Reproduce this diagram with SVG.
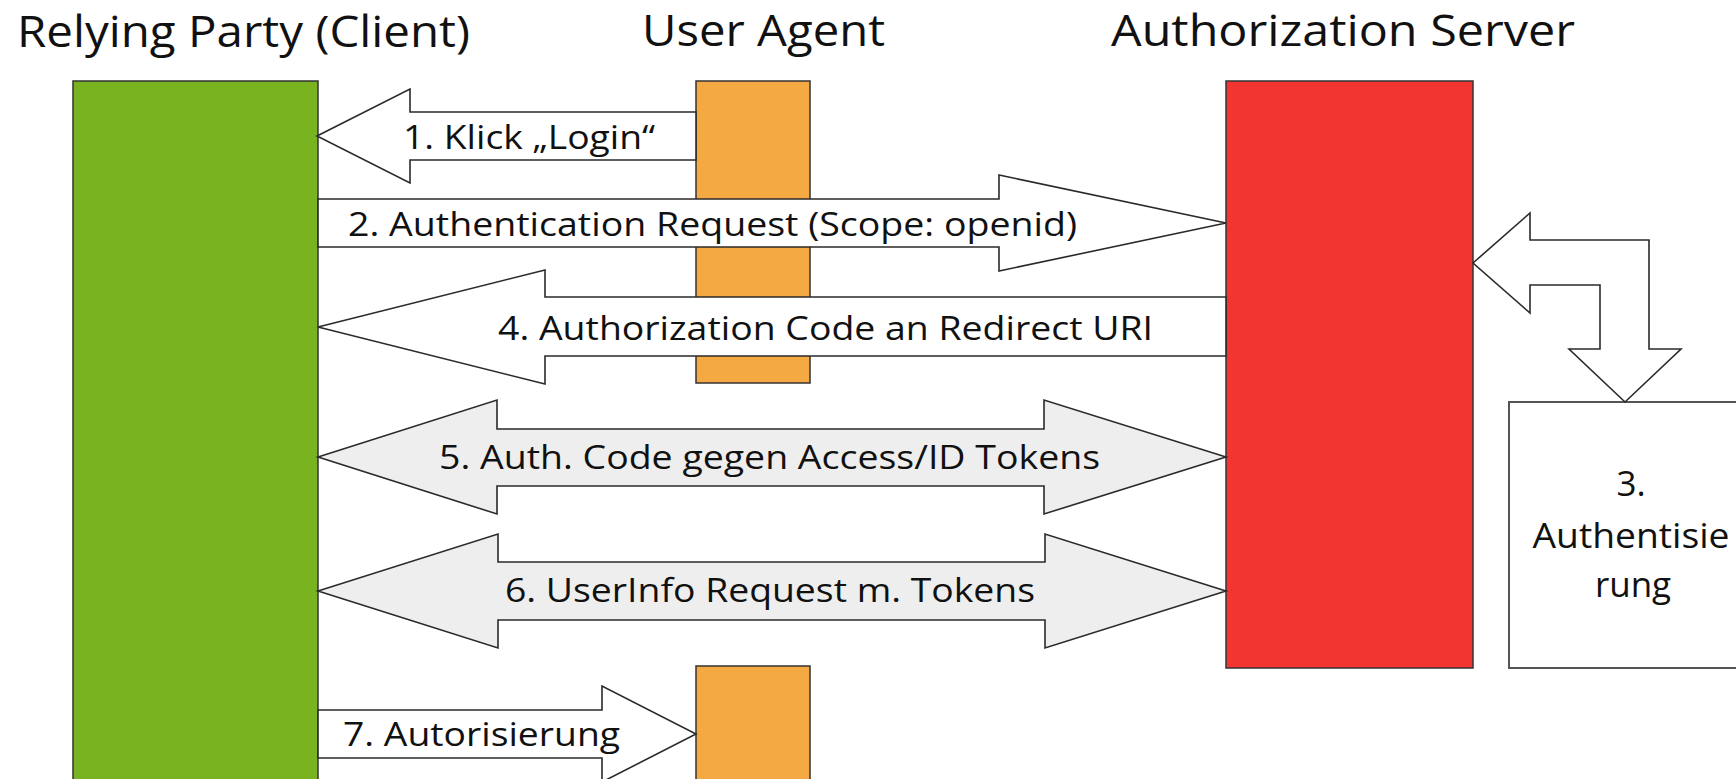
<svg xmlns="http://www.w3.org/2000/svg" width="1736" height="779" viewBox="0 0 1736 779">
  <style>
    .title { font-family: "Open Sans", "Noto Sans", sans-serif; font-size: 44px; fill: #111; }
    .label { font-family: "Open Sans", "Noto Sans", sans-serif; font-size: 32px; fill: #111; }
    .boxtext { font-family: "Open Sans", "Noto Sans", sans-serif; font-size: 35px; fill: #111; text-anchor: middle; }
    .lane { stroke: #333; stroke-width: 1.5; }
    .client { fill: #79b31f; }
    .agent { fill: #f4a943; }
    .server { fill: #f23531; }
    .step { fill: #ffffff; stroke: #555; stroke-width: 2; }
    .arrow { stroke: #2a2a2a; stroke-width: 1.6; stroke-linejoin: miter; }
    .plain { fill: #ffffff; }
    .exchange { fill: #eeeeee; }
  </style>

  <rect width="1736" height="779" fill="#ffffff"/>

  <!-- lane headings -->
  <g id="headings">
    <text class="title" x="17" y="47" textLength="453" lengthAdjust="spacingAndGlyphs">Relying Party (Client)</text>
    <text class="title" x="642" y="46" textLength="243" lengthAdjust="spacingAndGlyphs">User Agent</text>
    <text class="title" x="1111" y="46" textLength="464" lengthAdjust="spacingAndGlyphs">Authorization Server</text>
  </g>

  <!-- lanes -->
  <g id="client">
    <rect class="lane client" x="73" y="81" width="245" height="720"/>
  </g>
  <g id="user-agent">
    <rect class="lane agent" x="696" y="81" width="114" height="302"/>
  </g>
  <g id="user-agent-result">
    <rect class="lane agent" x="696" y="666" width="114" height="140"/>
  </g>
  <g id="authorization-server">
    <rect class="lane server" x="1226" y="81" width="247" height="587"/>
  </g>
  <g id="authentication-step">
    <rect class="step" x="1509" y="402" width="246" height="266"/>
    <text class="boxtext" x="1631" y="496">3.</text>
    <text class="boxtext" x="1631" y="548" textLength="197" lengthAdjust="spacingAndGlyphs">Authentisie</text>
    <text class="boxtext" x="1633" y="597">rung</text>
  </g>

  <!-- message arrows -->
  <g id="connectors">
    <!-- 1: user agent to client -->
    <polygon class="arrow plain" points="317,136 410,89 410,112 696,112 696,160 410,160 410,183"/>
    <!-- 2: client to authorization server -->
    <polygon class="arrow plain" points="318,199 999,199 999,175 1226,223 999,271 999,247 318,247"/>
    <!-- 3: authentication loop on the server -->
    <polygon class="arrow plain" points="1473,263 1530,213 1530,240 1649,240 1649,349 1681,349 1625,402 1569,349 1600,349 1600,285 1530,285 1530,313"/>
    <!-- 4: code back to client -->
    <polygon class="arrow plain" points="318,327 545,270 545,297 1226,297 1226,356 545,356 545,384"/>
    <!-- 5: token exchange -->
    <polygon class="arrow exchange" points="318,457 497,400 497,429 1044,429 1044,400 1226,457 1044,514 1044,486 497,486 497,514"/>
    <!-- 6: userinfo request -->
    <polygon class="arrow exchange" points="318,591 498,534 498,562 1045,562 1045,534 1226,591 1045,648 1045,620 498,620 498,648"/>
    <!-- 7: authorisation to user agent -->
    <polygon class="arrow plain" points="318,710 602,710 602,686 696,734 602,782 602,758 318,758"/>

    <text class="label" x="403" y="149" textLength="252" lengthAdjust="spacingAndGlyphs">1. Klick „Login“</text>
    <text class="label" x="348" y="236" textLength="729" lengthAdjust="spacingAndGlyphs">2. Authentication Request (Scope: openid)</text>
    <text class="label" x="498" y="340" textLength="655" lengthAdjust="spacingAndGlyphs">4. Authorization Code an Redirect URI</text>
    <text class="label" x="439" y="469" textLength="661" lengthAdjust="spacingAndGlyphs">5. Auth. Code gegen Access/ID Tokens</text>
    <text class="label" x="505" y="602" textLength="530" lengthAdjust="spacingAndGlyphs">6. UserInfo Request m. Tokens</text>
    <text class="label" x="343" y="746" textLength="277" lengthAdjust="spacingAndGlyphs">7. Autorisierung</text>
  </g>
</svg>
